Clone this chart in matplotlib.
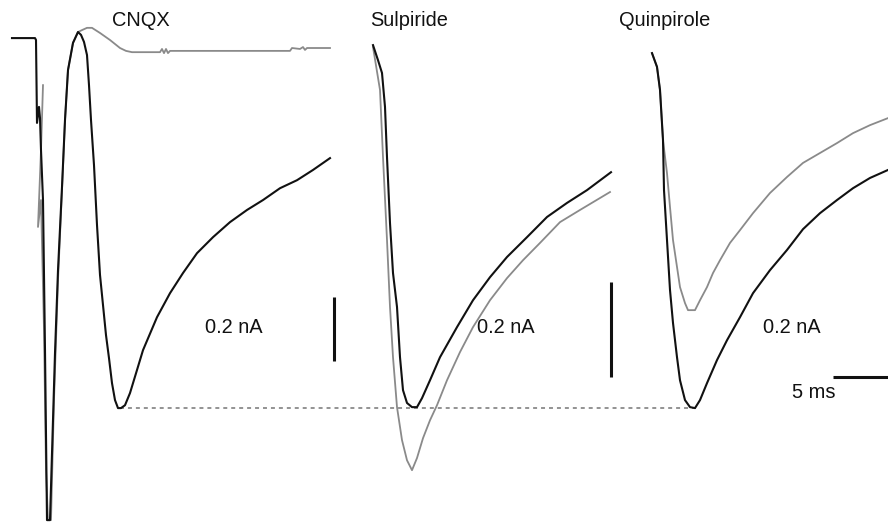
import matplotlib
matplotlib.use("Agg")
import matplotlib.pyplot as plt

plt.rcParams['font.family'] = ['Liberation Sans', 'DejaVu Sans']

# ---- data: time (ms) and current (nA) ----
# CNQX panel
cnqx_ctrl_t = [1.2, 3.5, 3.6, 3.7, 3.9, 4.0, 4.1, 4.3, 4.5, 4.7, 5.0, 5.2, 5.5, 5.8, 6.2,
               6.5, 6.8, 7.3, 7.8, 8.1, 8.4, 8.7, 8.9, 9.1, 9.4, 9.7, 10.0, 10.3, 10.6,
               10.9, 11.2, 11.5, 11.8, 12.1, 12.5, 13.0, 13.7, 14.3, 15.7, 17.0, 18.3,
               19.7, 21.3, 23.0, 24.7, 26.3, 28.0, 29.7, 31.3, 33.0]
cnqx_ctrl_i = [-0.019, -0.019, -0.025, -0.284, -0.234, -0.269, -0.369, -0.525, -0.994,
               -1.525, -1.525, -1.316, -1.003, -0.744, -0.484, -0.275, -0.119, -0.034,
               0.000, -0.009, -0.031, -0.072, -0.166, -0.275, -0.416, -0.603, -0.759,
               -0.853, -0.947, -1.019, -1.097, -1.150, -1.175, -1.175, -1.166, -1.128,
               -1.056, -0.994, -0.891, -0.816, -0.753, -0.691, -0.641, -0.594, -0.556,
               -0.525, -0.488, -0.463, -0.431, -0.394]
cnqx_drug_t = [4.3, 4.1, 3.8, 4.1, 4.4, 4.6, 4.8, 5.1, 5.4, 5.8, 6.2, 6.5,
               6.8, 7.3, 7.8, 8.2, 8.7, 9.2, 10.0, 11.0, 12.0, 12.6, 13.2, 16.0, 16.2,
               16.4, 16.6, 16.8, 17.0, 29.0, 29.2, 30.0, 30.3, 30.5, 30.7, 33.0]
cnqx_drug_i = [-0.166, -0.369, -0.609, -0.525, -0.931, -1.369,
               -1.525, -1.525, -1.150, -0.775, -0.494, -0.275, -0.119, -0.034, 0.000,
               0.006, 0.013, 0.013, -0.003, -0.025, -0.050, -0.059, -0.063, -0.063,
               -0.053, -0.066, -0.053, -0.066, -0.059, -0.059, -0.050, -0.053, -0.047,
               -0.056, -0.050, -0.050]

# Sulpiride panel
sulp_ctrl_t = [37.3, 37.8, 38.2, 38.5, 38.7, 39.0, 39.3, 39.7, 40.0, 40.3, 40.7, 41.2,
               41.7, 42.2, 43.0, 44.0, 45.7, 47.3, 49.0, 50.7, 52.7, 54.7, 56.7, 58.7, 61.1]
sulp_ctrl_i = [-0.041, -0.088, -0.128, -0.234, -0.391, -0.597, -0.753, -0.859, -1.016,
               -1.119, -1.159, -1.172, -1.172, -1.144, -1.088, -1.016, -0.922, -0.838,
               -0.766, -0.703, -0.641, -0.578, -0.534, -0.494, -0.438]
sulp_drug_t = [37.3, 38.0, 38.3, 38.7, 39.0, 39.3, 39.7, 40.2, 40.7, 41.2, 41.7, 42.3,
               43.0, 43.7, 44.7, 46.0, 47.3, 49.0, 50.7, 52.3, 54.0, 56.0, 58.0, 61.0]
sulp_drug_i = [-0.047, -0.181, -0.391, -0.650, -0.859, -1.016, -1.172, -1.275, -1.338,
               -1.369, -1.331, -1.269, -1.213, -1.166, -1.088, -1.000, -0.922, -0.838,
               -0.769, -0.713, -0.659, -0.594, -0.556, -0.500]

# Quinpirole panel
quin_t = [65.2, 65.7, 66.0, 66.3, 66.4, 66.7, 67.0, 67.3, 67.7, 68.0, 68.5, 69.0, 69.5,
          70.0, 70.7, 71.7, 72.7, 74.0, 75.3, 77.0, 78.7, 80.3, 82.0, 83.7, 85.3, 87.0, 88.8]
quin_ctrl_i = [-0.066, -0.109, -0.181, -0.338, -0.494, -0.650, -0.806, -0.909, -1.016,
               -1.088, -1.150, -1.172, -1.175, -1.150, -1.097, -1.025, -0.963, -0.891,
               -0.816, -0.744, -0.681, -0.616, -0.566, -0.525, -0.488, -0.456, -0.431]
quin_drug_t = [65.2, 65.7, 66.0, 66.3, 66.7, 67.0, 67.3, 67.7, 68.0, 68.5, 68.8, 69.5,
               70.0, 70.7, 71.3, 72.0, 73.0, 74.0, 75.3, 77.0, 78.7, 80.3, 82.0, 83.7,
               85.3, 87.0, 88.8]
quin_drug_i = [-0.066, -0.109, -0.181, -0.338, -0.441, -0.547, -0.650, -0.734, -0.797,
               -0.847, -0.869, -0.869, -0.838, -0.797, -0.753, -0.713, -0.659, -0.619,
               -0.566, -0.503, -0.453, -0.409, -0.378, -0.347, -0.316, -0.291, -0.269]

# reference line at control peak
peak_level = -1.175
peak_t = [12.0, 70.0]

# titles and labels
panel_titles = ["CNQX", "Sulpiride", "Quinpirole"]
title_t = [11.2, 37.0, 61.9]
amp_label = "0.2 nA"
amp_label_t = [20.5, 47.7, 76.3]
# vertical scale bars (t, bottom, top)
vbar_t = [33.4, 61.1]
vbar_lo = [-1.028, -1.078]
vbar_hi = [-0.828, -0.781]
# time scale bar
time_label = "5 ms"
tbar_t = [83.3, 90.0]
tbar_i = -1.078

BLACK = "#111111"
GRAY = "#8a8a8a"

fig = plt.figure(figsize=(8.88, 5.23), dpi=100)
ax = fig.add_axes([0, 0, 1, 1])
ax.set_xlim(0, 88.8)
ax.set_ylim(-1.534, 0.1)
ax.axis("off")

ax.plot(peak_t, [peak_level, peak_level], color=GRAY, lw=1.3, ls=(0, (2.2, 2.2)), zorder=1)

ax.plot(cnqx_drug_t, cnqx_drug_i, color=GRAY, lw=1.3, zorder=2)
ax.plot(cnqx_ctrl_t, cnqx_ctrl_i, color=BLACK, lw=1.5, zorder=3)
ax.plot(sulp_drug_t, sulp_drug_i, color=GRAY, lw=1.3, zorder=2)
ax.plot(sulp_ctrl_t, sulp_ctrl_i, color=BLACK, lw=1.5, zorder=3)
ax.plot(quin_drug_t, quin_drug_i, color=GRAY, lw=1.3, zorder=2)
ax.plot(quin_t, quin_ctrl_i, color=BLACK, lw=1.5, zorder=3)

for t, lo, hi in zip(vbar_t, vbar_lo, vbar_hi):
    ax.plot([t, t], [lo, hi], color=BLACK, lw=2.2, solid_capstyle="butt")
ax.plot(tbar_t, [tbar_i, tbar_i], color=BLACK, lw=2.2, solid_capstyle="butt")

for name, t in zip(panel_titles, title_t):
    ax.text(t, 0.0375, name, fontsize=14.4, ha="left", va="center", color=BLACK)
for t in amp_label_t:
    ax.text(t, -0.922, amp_label, fontsize=14.4, ha="left", va="center", color=BLACK)
ax.text(79.2, -1.125, time_label, fontsize=14.4, ha="left", va="center", color=BLACK)

fig.savefig("out.png", dpi=100)
